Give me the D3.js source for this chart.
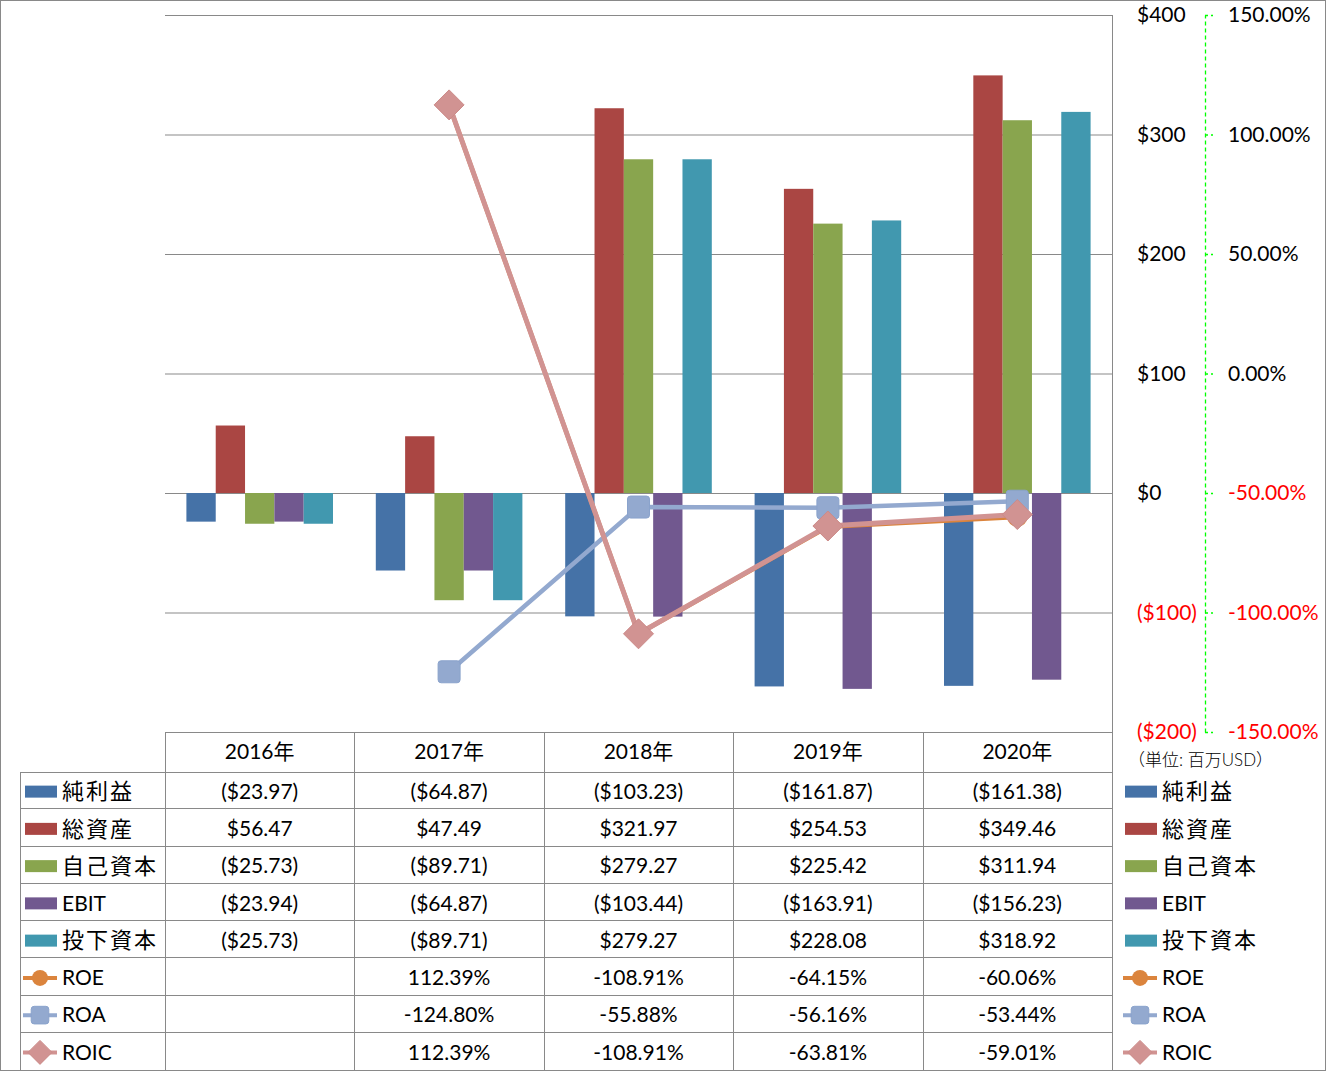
<!DOCTYPE html>
<html><head><meta charset="utf-8">
<script src="https://cdn.jsdelivr.net/npm/d3@7"></script>
<style>
body{margin:0;background:#fff;}
svg text{font-family:Lato,"Noto Sans CJK JP",sans-serif;}
</style></head>
<body><svg id="c" width="1326" height="1071"></svg>
<script>
const years = ["2016年","2017年","2018年","2019年","2020年"];
const barSeries = ["純利益","総資産","自己資本","EBIT","投下資本"];
const netIncome   = [-23.97, -64.87, -103.23, -161.87, -161.38];
const totalAssets = [56.47, 47.49, 321.97, 254.53, 349.46];
const equity      = [-25.73, -89.71, 279.27, 225.42, 311.94];
const ebit        = [-23.94, -64.87, -103.44, -163.91, -156.23];
const investedCap = [-25.73, -89.71, 279.27, 228.08, 318.92];
const lineSeries = ["ROE","ROA","ROIC"];
const roe  = [null, 1.1239, -1.0891, -0.6415, -0.6006];
const roa  = [null, -1.2480, -0.5588, -0.5616, -0.5344];
const roic = [null, 1.1239, -1.0891, -0.6381, -0.5901];
const leftTicks = [-200,-100,0,100,200,300,400];
const rightTicks = [-1.5,-1,-0.5,0,0.5,1,1.5];
const unitLabel = "（単位: 百万USD）";

const barColors = ["#4572A7","#AA4643","#89A54E","#71588F","#4198AF"];
const lineColors = ["#DB843D","#93A9CF","#D19392"];
const barData = [netIncome,totalAssets,equity,ebit,investedCap];
const lineData = [roe,roa,roic];

const svg = d3.select("#c");
const L=165,R=1112,T=15,B=732;
const x = d3.scaleBand().domain(years).range([L,R]);
const xi = d3.scaleBand().domain(barSeries).range([0,x.bandwidth()]).paddingOuter(0.73);
const y = d3.scaleLinear().domain([-200,400]).range([B,T]);
const y2 = d3.scaleLinear().domain([-1.5,1.5]).range([B,T]);
const grey="#898989";
const loc = d3.formatLocale({decimal:".",thousands:",",grouping:[3],currency:["$",""],minus:"-"});

// outer border
svg.append("rect").attr("x",0.5).attr("y",0.5).attr("width",1325).attr("height",1070).attr("fill","none").attr("stroke",grey);

// gridlines
svg.append("g").attr("transform",`translate(${R},0)`)
  .call(d3.axisLeft(y).tickValues(leftTicks).tickSize(R-L).tickFormat(""))
  .call(g=>{g.select(".domain").remove();g.selectAll("line").attr("stroke",grey);});
svg.append("line").attr("x1",R+0.5).attr("x2",R+0.5).attr("y1",T).attr("y2",1070).attr("stroke",grey);

// bars
barData.forEach((vals,si)=>{
  svg.append("g").selectAll("rect").data(vals).join("rect")
    .attr("x",(d,i)=>x(years[i])+xi(barSeries[si]))
    .attr("width",xi.bandwidth())
    .attr("y",d=>y(Math.max(0,d)))
    .attr("height",d=>Math.abs(y(d)-y(0)))
    .attr("fill",barColors[si]);
});

// primary axis
const money = v => v<0 ? `($${-v})` : `$${v}`;
svg.append("g").attr("transform",`translate(${R},0)`)
  .call(d3.axisRight(y).tickValues(leftTicks).tickSize(0).tickPadding(25).tickFormat(money))
  .call(g=>{g.select(".domain").remove();
    g.selectAll("text").attr("font-size",21).attr("font-family",'Lato,"Noto Sans CJK JP",sans-serif')
     .attr("fill",d=>d<0?"#FF0000":"#000");});

// secondary axis
const fmtPct = loc.format(".2%");
svg.append("g").attr("transform",`translate(1205,0)`)
  .call(d3.axisRight(y2).tickValues(rightTicks).tickSize(8).tickSizeOuter(0).tickPadding(15).tickFormat(fmtPct))
  .call(g=>{g.select(".domain").attr("stroke","#00FF00").attr("stroke-width",1.3).attr("stroke-dasharray","4,3");
    g.selectAll("line").attr("stroke","#00FF00").attr("stroke-width",1.3).attr("stroke-dasharray","3,3");
    g.selectAll("text").attr("font-size",21).attr("font-family",'Lato,"Noto Sans CJK JP",sans-serif')
     .attr("fill",d=>d<0?"#FF0000":"#000");});

// lines
function marker(g,type,color,cx,cy,scale){
  if(type===0){g.append("circle").attr("cx",cx).attr("cy",cy).attr("r",10*scale).attr("fill",color);}
  else if(type===1){const s=22*scale;g.append("rect").attr("x",cx-s/2).attr("y",cy-s/2).attr("width",s).attr("height",s).attr("rx",3).attr("fill",color).attr("stroke","#8AA3CC").attr("stroke-width",1);}
  else {const s=15*scale;g.append("path").attr("d",`M${cx},${cy-s}L${cx+s},${cy}L${cx},${cy+s}L${cx-s},${cy}Z`).attr("fill",color).attr("stroke","#CC8A88").attr("stroke-width",1).attr("stroke-linejoin","round");}
}
const lineGen = d3.line().defined(d=>d.v!==null).x(d=>x(d.k)+x.bandwidth()/2).y(d=>y2(d.v));
lineData.forEach((vals,si)=>{
  const pts = vals.map((v,i)=>({k:years[i],v}));
  const g = svg.append("g");
  g.append("path").datum(pts).attr("d",lineGen).attr("fill","none").attr("stroke",lineColors[si]).attr("stroke-width",si===2?5:4.5).attr("stroke-linejoin","round");
  pts.filter(d=>d.v!==null).forEach(d=>marker(g,si,lineColors[si],x(d.k)+x.bandwidth()/2,y2(d.v),1));
});

// table
const rowTop=772,rowH=(1070-772)/8,TL=20;
const tg = svg.append("g");
tg.append("line").attr("x1",L).attr("x2",R).attr("y1",B+0.5).attr("y2",B+0.5).attr("stroke",grey);
for(let i=1;i<8;i++){
  const yy=Math.round(rowTop+i*rowH)-0.5;
  tg.append("line").attr("x1",TL).attr("x2",R).attr("y1",yy).attr("y2",yy).attr("stroke",grey);
}
tg.append("line").attr("x1",TL).attr("x2",R).attr("y1",rowTop+0.5).attr("y2",rowTop+0.5).attr("stroke",grey);
tg.append("line").attr("x1",TL+0.5).attr("x2",TL+0.5).attr("y1",rowTop).attr("y2",1070).attr("stroke",grey);
years.forEach((yr,i)=>{
  const xx=Math.round(x(yr))+0.5;
  tg.append("line").attr("x1",xx).attr("x2",xx).attr("y1",B).attr("y2",1070).attr("stroke",grey);
  tg.append("text").attr("x",x(yr)+x.bandwidth()/2).attr("y",(B+rowTop)/2).attr("dy","0.35em")
    .attr("text-anchor","middle").attr("font-size",21).text(yr);
});
const fmtMoney = v => v<0 ? `($${(-v).toFixed(2)})` : `$${v.toFixed(2)}`;
const allNames = barSeries.concat(lineSeries);
const allData = barData.concat(lineData);
allNames.forEach((name,ri)=>{
  const cy = rowTop + ri*rowH + rowH/2 + 1;
  const isLine = ri>=5;
  const color = isLine? lineColors[ri-5] : barColors[ri];
  [TL,1120].forEach(ox=>{
    const lg = tg.append("g");
    if(!isLine){
      lg.append("rect").attr("x",ox+5).attr("y",cy-6).attr("width",32).attr("height",12).attr("fill",color);
    } else {
      lg.append("line").attr("x1",ox+3).attr("x2",ox+37).attr("y1",cy).attr("y2",cy).attr("stroke",color).attr("stroke-width",4);
      marker(lg,ri-5,color,ox+20,cy,0.8);
    }
    lg.append("text").attr("x",ox+42).attr("y",cy).attr("dy","0.35em")
      .attr("font-size",isLine||name==="EBIT"?21:22).attr("letter-spacing",isLine||name==="EBIT"?0:2).attr("fill","#000").text(name);
  });
  allData[ri].forEach((v,i)=>{
    if(v===null) return;
    tg.append("text").attr("x",x(years[i])+x.bandwidth()/2).attr("y",cy).attr("dy","0.35em")
      .attr("text-anchor","middle").attr("font-size",21).attr("fill","#000")
      .text(isLine?fmtPct(v):fmtMoney(v));
  });
});
svg.append("text").attr("x",1128).attr("y",760).attr("dy","0.35em").attr("font-size",17)
  .attr("font-family",'"Noto Sans CJK JP",sans-serif').attr("font-weight",300).attr("fill","#000").text(unitLabel);
</script></body></html>
